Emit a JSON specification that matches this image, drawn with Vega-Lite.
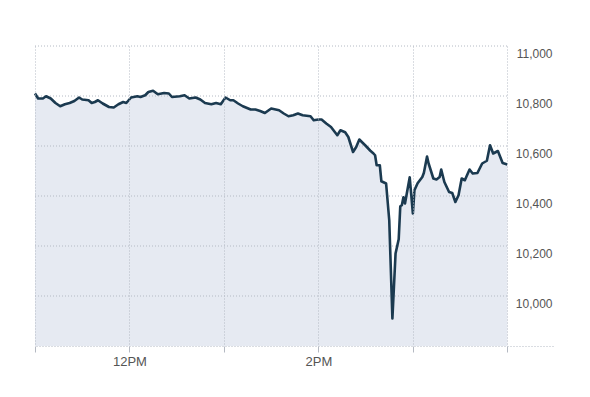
{
  "$schema": "https://vega.github.io/schema/vega-lite/v6.json",
  "width": 518,
  "height": 300,
  "autosize": {"type": "none"},
  "padding": {"left": 35, "top": 46, "right": 37, "bottom": 51},
  "background": "white",
  "config": {
    "view": {"stroke": null},
    "axis": {"labelFont": "Liberation Sans", "labelColor": "#555555"}
  },
  "datasets": {
    "dow": [
      {"t": "2010-05-06T11:00", "v": 10810},
      {"t": "2010-05-06T11:02", "v": 10790},
      {"t": "2010-05-06T11:05", "v": 10790},
      {"t": "2010-05-06T11:07", "v": 10799},
      {"t": "2010-05-06T11:10", "v": 10790},
      {"t": "2010-05-06T11:13", "v": 10772},
      {"t": "2010-05-06T11:16", "v": 10759},
      {"t": "2010-05-06T11:19", "v": 10767},
      {"t": "2010-05-06T11:22", "v": 10772},
      {"t": "2010-05-06T11:25", "v": 10780},
      {"t": "2010-05-06T11:28", "v": 10794},
      {"t": "2010-05-06T11:30", "v": 10786},
      {"t": "2010-05-06T11:34", "v": 10783},
      {"t": "2010-05-06T11:36", "v": 10772},
      {"t": "2010-05-06T11:38", "v": 10776},
      {"t": "2010-05-06T11:40", "v": 10783},
      {"t": "2010-05-06T11:43", "v": 10770},
      {"t": "2010-05-06T11:47", "v": 10756},
      {"t": "2010-05-06T11:50", "v": 10754},
      {"t": "2010-05-06T11:53", "v": 10767},
      {"t": "2010-05-06T11:56", "v": 10776},
      {"t": "2010-05-06T11:58", "v": 10772},
      {"t": "2010-05-06T12:01", "v": 10794},
      {"t": "2010-05-06T12:05", "v": 10799},
      {"t": "2010-05-06T12:07", "v": 10796},
      {"t": "2010-05-06T12:10", "v": 10803},
      {"t": "2010-05-06T12:12", "v": 10816},
      {"t": "2010-05-06T12:15", "v": 10821},
      {"t": "2010-05-06T12:18", "v": 10807},
      {"t": "2010-05-06T12:22", "v": 10812},
      {"t": "2010-05-06T12:25", "v": 10810},
      {"t": "2010-05-06T12:27", "v": 10796},
      {"t": "2010-05-06T12:32", "v": 10799},
      {"t": "2010-05-06T12:35", "v": 10803},
      {"t": "2010-05-06T12:38", "v": 10790},
      {"t": "2010-05-06T12:42", "v": 10794},
      {"t": "2010-05-06T12:45", "v": 10786},
      {"t": "2010-05-06T12:48", "v": 10772},
      {"t": "2010-05-06T12:52", "v": 10767},
      {"t": "2010-05-06T12:55", "v": 10772},
      {"t": "2010-05-06T12:58", "v": 10767},
      {"t": "2010-05-06T13:01", "v": 10794},
      {"t": "2010-05-06T13:04", "v": 10783},
      {"t": "2010-05-06T13:06", "v": 10783},
      {"t": "2010-05-06T13:09", "v": 10770},
      {"t": "2010-05-06T13:12", "v": 10759},
      {"t": "2010-05-06T13:17", "v": 10746},
      {"t": "2010-05-06T13:20", "v": 10746},
      {"t": "2010-05-06T13:23", "v": 10740},
      {"t": "2010-05-06T13:26", "v": 10732},
      {"t": "2010-05-06T13:30", "v": 10750},
      {"t": "2010-05-06T13:35", "v": 10743},
      {"t": "2010-05-06T13:38", "v": 10730},
      {"t": "2010-05-06T13:41", "v": 10719},
      {"t": "2010-05-06T13:44", "v": 10723},
      {"t": "2010-05-06T13:47", "v": 10730},
      {"t": "2010-05-06T13:50", "v": 10723},
      {"t": "2010-05-06T13:55", "v": 10719},
      {"t": "2010-05-06T13:57", "v": 10703},
      {"t": "2010-05-06T14:00", "v": 10706},
      {"t": "2010-05-06T14:02", "v": 10706},
      {"t": "2010-05-06T14:05", "v": 10690},
      {"t": "2010-05-06T14:08", "v": 10676},
      {"t": "2010-05-06T14:12", "v": 10643},
      {"t": "2010-05-06T14:14", "v": 10663},
      {"t": "2010-05-06T14:17", "v": 10655},
      {"t": "2010-05-06T14:19", "v": 10636},
      {"t": "2010-05-06T14:22", "v": 10576},
      {"t": "2010-05-06T14:24", "v": 10596},
      {"t": "2010-05-06T14:26", "v": 10626},
      {"t": "2010-05-06T14:30", "v": 10601},
      {"t": "2010-05-06T14:33", "v": 10581},
      {"t": "2010-05-06T14:35", "v": 10570},
      {"t": "2010-05-06T14:36", "v": 10563},
      {"t": "2010-05-06T14:37", "v": 10523},
      {"t": "2010-05-06T14:39", "v": 10523},
      {"t": "2010-05-06T14:40", "v": 10459},
      {"t": "2010-05-06T14:43", "v": 10450},
      {"t": "2010-05-06T14:45", "v": 10303},
      {"t": "2010-05-06T14:47", "v": 9910},
      {"t": "2010-05-06T14:49", "v": 10170},
      {"t": "2010-05-06T14:51", "v": 10227},
      {"t": "2010-05-06T14:52", "v": 10359},
      {"t": "2010-05-06T14:53", "v": 10363},
      {"t": "2010-05-06T14:54", "v": 10395},
      {"t": "2010-05-06T14:55", "v": 10370},
      {"t": "2010-05-06T14:58", "v": 10475},
      {"t": "2010-05-06T15:00", "v": 10330},
      {"t": "2010-05-06T15:01", "v": 10423},
      {"t": "2010-05-06T15:03", "v": 10451},
      {"t": "2010-05-06T15:06", "v": 10476},
      {"t": "2010-05-06T15:07", "v": 10493},
      {"t": "2010-05-06T15:09", "v": 10558},
      {"t": "2010-05-06T15:10", "v": 10530},
      {"t": "2010-05-06T15:13", "v": 10470},
      {"t": "2010-05-06T15:15", "v": 10466},
      {"t": "2010-05-06T15:17", "v": 10476},
      {"t": "2010-05-06T15:18", "v": 10506},
      {"t": "2010-05-06T15:20", "v": 10456},
      {"t": "2010-05-06T15:23", "v": 10416},
      {"t": "2010-05-06T15:25", "v": 10412},
      {"t": "2010-05-06T15:27", "v": 10376},
      {"t": "2010-05-06T15:29", "v": 10403},
      {"t": "2010-05-06T15:31", "v": 10470},
      {"t": "2010-05-06T15:33", "v": 10463},
      {"t": "2010-05-06T15:36", "v": 10506},
      {"t": "2010-05-06T15:38", "v": 10490},
      {"t": "2010-05-06T15:41", "v": 10492},
      {"t": "2010-05-06T15:44", "v": 10530},
      {"t": "2010-05-06T15:47", "v": 10541},
      {"t": "2010-05-06T15:49", "v": 10603},
      {"t": "2010-05-06T15:51", "v": 10570},
      {"t": "2010-05-06T15:54", "v": 10580},
      {"t": "2010-05-06T15:57", "v": 10532},
      {"t": "2010-05-06T16:00", "v": 10526}
    ],
    "levels": [
      {"g": 10000}, {"g": 10200}, {"g": 10400}, {"g": 10600}, {"g": 10800}, {"g": 11000}
    ]
  },
  "layer": [
    {
      "data": {"name": "dow"},
      "mark": {"type": "area", "color": "#e6eaf2", "opacity": 1},
      "encoding": {
        "x": {
          "field": "t",
          "type": "temporal",
          "scale": {
            "domain": [
              {"year": 2010, "month": 5, "date": 6, "hours": 11, "minutes": 0},
              {"year": 2010, "month": 5, "date": 6, "hours": 16, "minutes": 29}
            ]
          },
          "axis": {
            "title": null,
            "zindex": 1,
            "values": [
              {"year": 2010, "month": 5, "date": 6, "hours": 11},
              {"year": 2010, "month": 5, "date": 6, "hours": 12},
              {"year": 2010, "month": 5, "date": 6, "hours": 13},
              {"year": 2010, "month": 5, "date": 6, "hours": 14},
              {"year": 2010, "month": 5, "date": 6, "hours": 15},
              {"year": 2010, "month": 5, "date": 6, "hours": 16}
            ],
            "labelExpr": "hours(datum.value) == 12 || hours(datum.value) == 14 ? timeFormat(datum.value, '%-I%p') : ''",
            "domain": false,
            "ticks": true,
            "tickSize": 6,
            "tickColor": "#b4b9c2",
            "tickWidth": 1,
            "labelPadding": 3,
            "labelFontSize": 13,
            "labelFlush": false,
            "labelOverlap": false,
            "grid": true,
            "gridColor": "#b4bac4",
            "gridDash": [1, 2],
            "gridWidth": 1
          }
        },
        "y": {
          "field": "v",
          "type": "quantitative",
          "scale": {"domain": [9800, 11000], "zero": false, "nice": false},
          "axis": {
            "title": null,
            "orient": "right",
            "zindex": 1,
            "values": [9800, 10000, 10200, 10400, 10600, 10800, 11000],
            "labelExpr": "datum.value == 9800 ? '' : datum.label",
            "domain": false,
            "ticks": false,
            "tickSize": 0,
            "labelAlign": "right",
            "labelPadding": -1,
            "labelOffset": 7,
            "labelFontSize": 12,
            "grid": true,
            "gridColor": "#b4bac4",
            "gridDash": [1, 2],
            "gridWidth": 1,
            "gridOpacity": {"condition": {"test": "datum.value == 9800", "value": 1}, "value": 0}
          }
        },
        "y2": {"datum": 9800}
      }
    },
    {
      "data": {"name": "levels"},
      "mark": {"type": "rule", "color": "#b4bac4", "strokeDash": [1, 2], "strokeWidth": 1},
      "encoding": {
        "y": {"field": "g", "type": "quantitative"},
        "x": {"datum": {"year": 2010, "month": 5, "date": 6, "hours": 11, "minutes": 0}, "type": "temporal"},
        "x2": {"datum": {"year": 2010, "month": 5, "date": 6, "hours": 16, "minutes": 0}}
      }
    },
    {
      "data": {"name": "dow"},
      "mark": {"type": "line", "color": "#1b3a50", "strokeWidth": 2.6, "strokeJoin": "round"},
      "encoding": {
        "x": {"field": "t", "type": "temporal"},
        "y": {"field": "v", "type": "quantitative"}
      }
    }
  ]
}
